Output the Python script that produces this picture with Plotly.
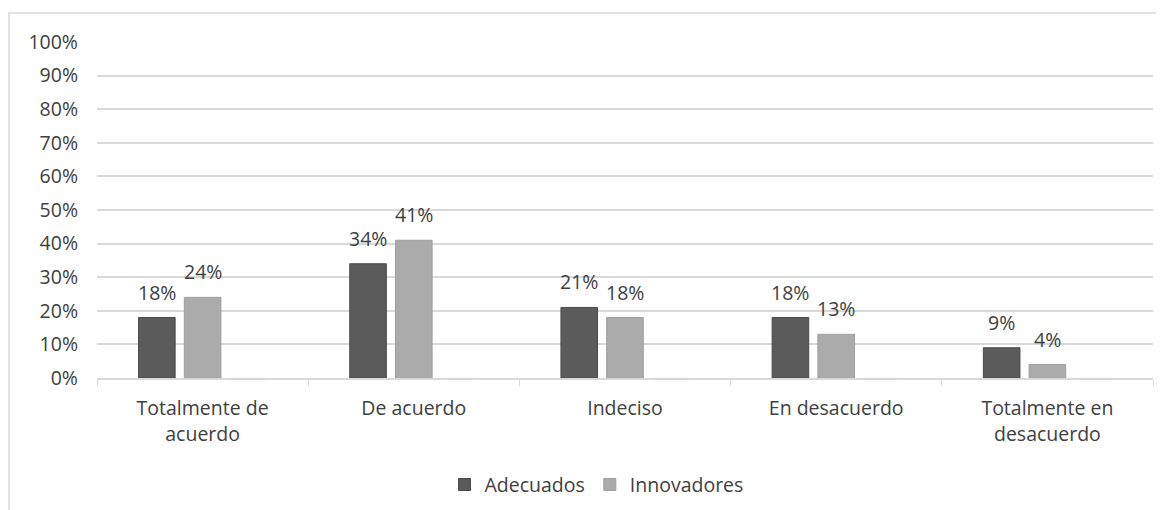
import plotly.graph_objects as go

categories = ["Totalmente de<br>acuerdo", "De acuerdo", "Indeciso", "En desacuerdo", "Totalmente en<br>desacuerdo"]
adecuados = [0.18, 0.34, 0.21, 0.18, 0.09]
innovadores = [0.24, 0.41, 0.18, 0.13, 0.04]
spacer = [0, 0, 0, 0, 0]
y_ticks = [0, 0.1, 0.2, 0.3, 0.4, 0.5, 0.6, 0.7, 0.8, 0.9, 1.0]

FONT = "Open Sans"
TXT = "#404040"
FS = 19.5

fig = go.Figure()
fig.add_trace(go.Bar(
    x=categories, y=adecuados, name="Adecuados",
    marker=dict(color="#5b5b5b", line=dict(color="#4a4a4a", width=1)),
))
fig.add_trace(go.Bar(
    x=categories, y=innovadores, name="Innovadores",
    marker=dict(color="#ababab", line=dict(color="#9f9f9f", width=1)),
))
fig.add_trace(go.Bar(
    x=categories, y=spacer, name="", showlegend=False, hoverinfo="skip",
    marker=dict(color="rgba(0,0,0,0)"),
))

# page body has an 8px default margin; compensate
OFF = 8
W, H = 1164 - OFF, 510 - OFF
L, R, T, B = 97 - OFF, 11, 42 - OFF, 132
pw, ph = W - L - R, H - T - B
BARGAP = 0.35
slot = pw / len(categories) * (1 - BARGAP) / 3

annotations = []
for vals, dx in ((adecuados, -slot), (innovadores, 0.0)):
    for c, v in zip(categories, vals):
        annotations.append(dict(
            x=c, y=v, xref="x", yref="y", text=f"{v*100:.0f}%", showarrow=False,
            xanchor="center", yanchor="bottom", xshift=dx, yshift=10,
            font=dict(size=FS, color=TXT, family=FONT)))

fig.update_layout(
    width=W, height=H,
    margin=dict(l=L, r=R, t=T, b=B, autoexpand=False),
    paper_bgcolor="white", plot_bgcolor="white",
    barmode="group", bargap=BARGAP, bargroupgap=0.2,
    font=dict(family=FONT, size=FS, color=TXT),
    showlegend=True,
    legend=dict(orientation="h", x=0.473, xanchor="center", y=-0.318, yanchor="middle",
                font=dict(size=FS, color=TXT, family=FONT), itemwidth=30,
                traceorder="normal"),
    xaxis=dict(showline=True, linecolor="#d9d9d9", linewidth=1.5, automargin=False,
               ticks="outside", tickson="boundaries", ticklen=6, tickcolor="#d9d9d9",
               ticklabelstandoff=12,
               tickfont=dict(size=FS, color=TXT, family=FONT), showgrid=False),
    yaxis=dict(range=[0, 1.0], tickvals=y_ticks, tickformat=".0%", automargin=False,
               showgrid=True, gridcolor="#d9d9d9", gridwidth=1.5,
               zeroline=False, showline=False, ticks="", ticklabelstandoff=18,
               tickfont=dict(size=FS, color=TXT, family=FONT)),
    annotations=annotations,
    shapes=[dict(type="rect", xref="paper", yref="paper",
                 x0=(9 - OFF - L) / pw, x1=(1163 - OFF - L) / pw,
                 y0=-(B + 20) / ph, y1=1 + (T - (13 - OFF)) / ph,
                 line=dict(color="#d9d9d9", width=1.5), fillcolor="rgba(0,0,0,0)",
                 layer="below")],
)

fig.write_html("out.html")
